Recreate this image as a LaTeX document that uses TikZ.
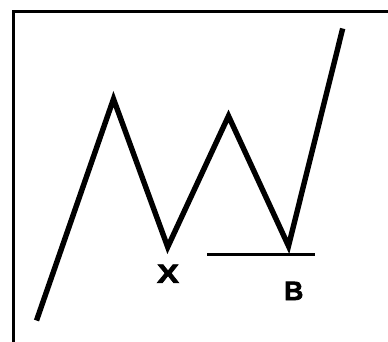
\documentclass[tikz,border=0pt]{standalone}
\usepackage{fontspec}
\setmainfont{Liberation Sans}
\newfontfamily\lblfont{Liberation Sans Bold}[FakeBold=2.5]
\begin{document}
\begin{tikzpicture}[x=1pt,y=-1pt,
  frameline/.style={line width=3.4pt,line cap=butt,line join=miter},
  zig/.style={line width=5.4pt,line join=miter,miter limit=20,line cap=butt},
  baseline/.style={line width=2.7pt},
  lbl/.style={inner sep=0pt,font=\fontsize{26.5}{26.5}\selectfont\lblfont}]
\useasboundingbox (0,0) rectangle (388,341);
\coordinate (fb) at (13.5,345);
\coordinate (fc) at (13.5,11.7);
\coordinate (fr) at (392,11.7);
\draw[frameline] (fb) -- (fc) -- (fr);
\coordinate (p0) at (36.5,320.5);
\coordinate (p1) at (113.5,99);
\coordinate (p2) at (167.7,247);
\coordinate (p3) at (228.5,116);
\coordinate (p4) at (288.5,246);
\coordinate (p5) at (342.7,28.5);
\draw[zig] (p0) -- (p1) -- (p2) -- (p3) -- (p4) -- (p5);
\coordinate (hl) at (207.3,254.7);
\coordinate (hr) at (315,254.7);
\draw[baseline] (hl) -- (hr);
\node[lbl,xscale=1.25] (x) at (168,273.7) {X};
\node[lbl] (b) at (293.8,290.9) {B};
\end{tikzpicture}
\end{document}
